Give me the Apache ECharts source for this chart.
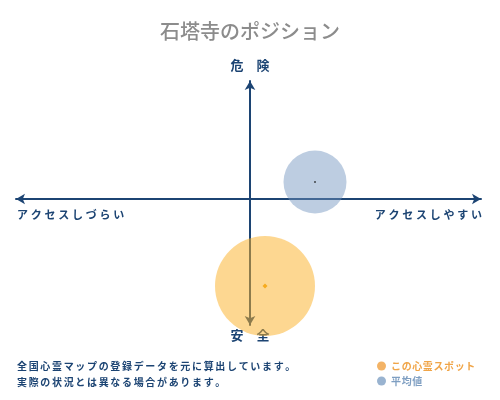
<!DOCTYPE html>
<html><head><meta charset="utf-8">
<script src="https://cdn.jsdelivr.net/npm/echarts@6/dist/echarts.min.js"></script>
<style>html,body{margin:0;padding:0;background:#fff}#c{width:500px;height:400px}</style>
</head><body><div id="c"></div>
<script>
const titleText = '石塔寺のポジション';
const axisLabels = { top: '危険', bottom: '安全', left: 'アクセスしづらい', right: 'アクセスしやすい' };
const noteLines = ['全国心霊マップの登録データを元に算出しています。', '実際の状況とは異なる場合があります。'];
const seriesNames = ['この心霊スポット', '平均値'];
const spotPoint = [15, -87];
const avgPoint = [65, 17];
const xRange = [-234, 231];
const yRange = [-126, 118];

const FONT = '"Noto Sans CJK JP", serif';
const NAVY = '#1c4473';
const sp = (s, g) => s.split('').join(g);

const chart = echarts.init(document.getElementById('c'));
chart.setOption({
  animation: false,
  title: { text: titleText, left: 'center', top: 16,
    textStyle: { fontFamily: FONT, fontSize: 20, fontWeight: 500, color: '#8c8c8c' } },
  grid: { left: 16, right: 19, top: 81, bottom: 75 },
  xAxis: { type: 'value', min: xRange[0], max: xRange[1],
    axisLine: { show: true, onZero: true, symbol: ['arrow', 'arrow'], symbolSize: [8, 9], lineStyle: { color: NAVY, width: 2 } },
    axisTick: { show: false }, axisLabel: { show: false }, splitLine: { show: false } },
  yAxis: { type: 'value', min: yRange[0], max: yRange[1],
    axisLine: { show: true, onZero: true, symbol: ['arrow', 'arrow'], symbolSize: [8, 9], lineStyle: { color: NAVY, width: 2 } },
    axisTick: { show: false }, axisLabel: { show: false }, splitLine: { show: false } },
  legend: {
    data: [
      { name: seriesNames[0], itemStyle: { color: '#f0a040' } },
      { name: seriesNames[1], itemStyle: { color: '#7fa0c4' } }
    ],
    orient: 'vertical', left: 377, top: 361, itemGap: 5, padding: 0,
    icon: 'circle', itemWidth: 9, itemHeight: 9,
    formatter: n => (n === seriesNames[0] ? '{o|' : '{b|') + sp(n, '\u200a') + '}',
    textStyle: { fontFamily: FONT, fontSize: 10, fontWeight: 'bold',
      rich: { o: { color: '#f0a548', fontFamily: FONT, fontSize: 10, fontWeight: 'bold' },
              b: { color: '#7f9fc2', fontFamily: FONT, fontSize: 10, fontWeight: 'bold' } } }
  },
  series: [
    { name: seriesNames[1], type: 'scatter', data: [avgPoint], symbolSize: 63,
      itemStyle: { color: 'rgba(112,146,190,0.58)' }, z: 3 },
    { name: seriesNames[0], type: 'scatter', data: [spotPoint], symbolSize: 100,
      itemStyle: { color: 'rgba(251,176,40,0.64)' }, z: 4 },
    { name: 'avgDot', type: 'scatter', data: [avgPoint], symbolSize: 2, silent: true,
      itemStyle: { color: '#222' }, z: 5 },
    { name: 'spotDot', type: 'scatter', data: [spotPoint], symbol: 'diamond', symbolSize: 5, silent: true,
      itemStyle: { color: '#f5a000' }, z: 5 }
  ],
  graphic: [
    { type: 'text', left: 'center', top: 59, style: { text: sp(axisLabels.top, '\u2003'), font: 'bold 13px ' + FONT, fill: NAVY } },
    { type: 'text', left: 'center', top: 329, style: { text: sp(axisLabels.bottom, '\u2003'), font: 'bold 13px ' + FONT, fill: NAVY } },
    { type: 'text', left: 17, top: 209, style: { text: sp(axisLabels.left, '\u2005'), font: 'bold 11px ' + FONT, fill: NAVY } },
    { type: 'text', right: 18, top: 209, style: { text: sp(axisLabels.right, '\u2005'), font: 'bold 11px ' + FONT, fill: NAVY } },
    { type: 'text', left: 17, top: 361, style: { text: sp(noteLines[0], '\u2006'), font: 'bold 10px ' + FONT, fill: NAVY } },
    { type: 'text', left: 17, top: 377, style: { text: sp(noteLines[1], '\u2006'), font: 'bold 10px ' + FONT, fill: NAVY } }
  ]
});
</script></body></html>
